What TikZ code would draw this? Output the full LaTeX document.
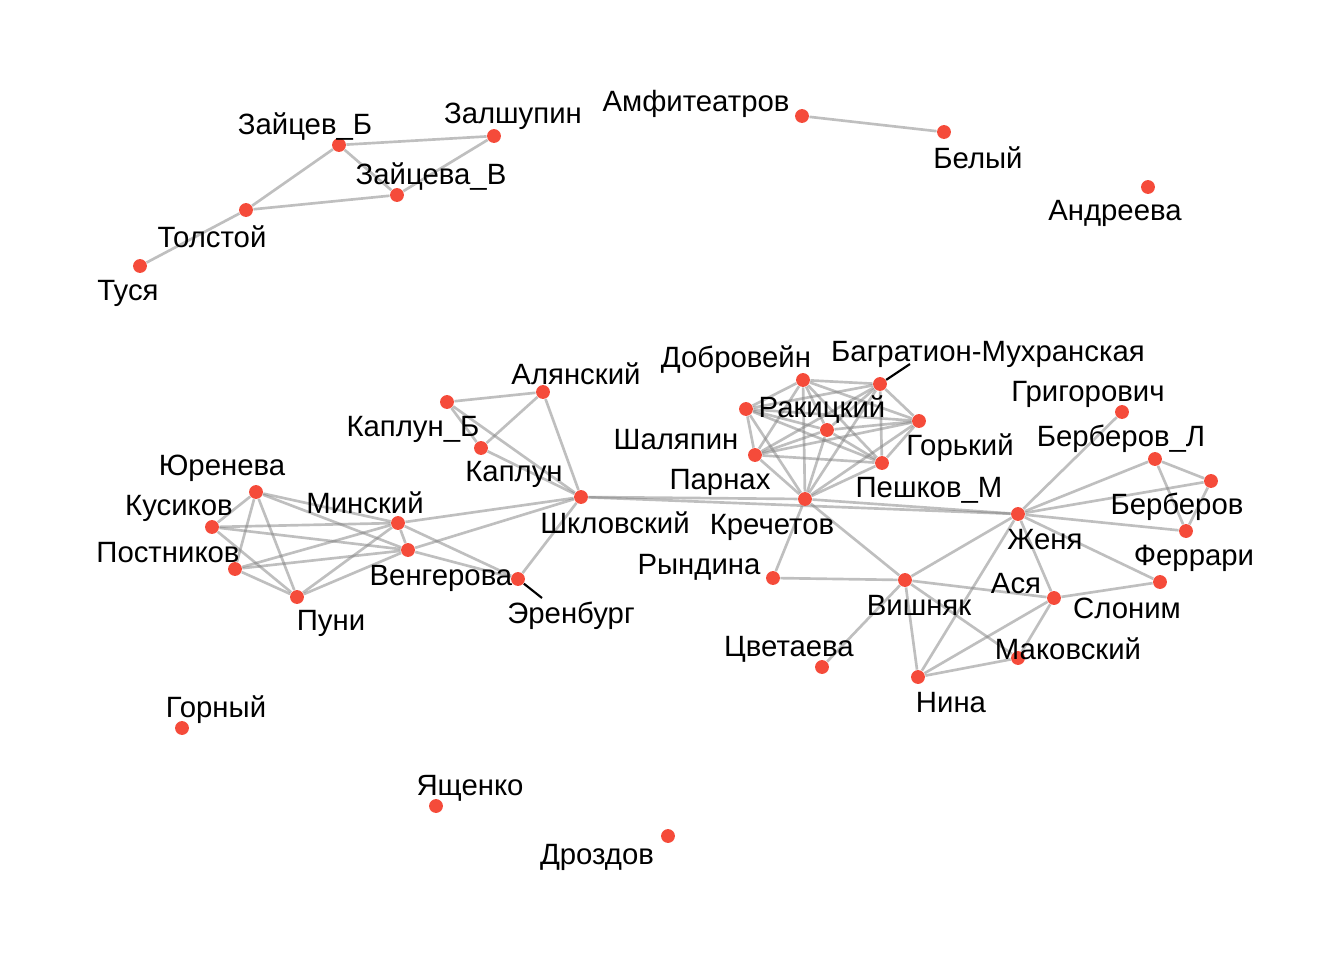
\documentclass[tikz,border=0pt]{standalone}
\usepackage{fontspec}
\setmainfont{Liberation Sans}
\usetikzlibrary{backgrounds}
\definecolor{netDot}{HTML}{F54B3A}
\definecolor{netEdge}{HTML}{808080}
\tikzset{
  net edge/.style={draw=netEdge, draw opacity=0.5, line width=1pt},
  net dot/.style={circle, fill=netDot, draw=none, minimum size=5.2pt, inner sep=0pt},
  net label/.style={font=\fontsize{11}{13}\selectfont, text=black, inner sep=0pt, yshift=-0.75pt},
  net leader/.style={draw=black, line width=0.8pt},
}
\begin{document}
\begin{tikzpicture}[x=0.375pt,y=-0.375pt]
  \useasboundingbox (0,0) rectangle (1344,960);
  % vertices
  \foreach \n/\x/\y in {
      tusya/140/266, tolstoy/246/210, zaycevB/339/145, zaycevaV/397/195, zalshupin/494/136,
      amfi/802/116, bely/944/132, andreeva/1148/187,
      kaplunB/447/402, alyansky/543/392, kaplun/481/448, shklovsky/581/497,
      yureneva/256/492, kusikov/212/527, postnikov/235/569, puni/297/597,
      minsky/398/523, vengerova/408/550, erenburg/518/579,
      dobrovein/803/380, bagration/880/384, shalyapin/746/409, rakitsky/827/430,
      gorky/919/421, parnakh/755/455, peshkov/882/463, krechetov/805/499,
      grigorovich/1122/412, berberovL/1155/459, berberov/1211/481, ferrari/1186/531,
      zhenya/1018/514, slonim/1160/582, asya/1054/598, makovsky/1018/658,
      nina/918/677, vishnyak/905/580, tsvetaeva/822/667, ryndina/773/578,
      gorny/182/728, yashchenko/436/806, drozdov/668/836}
    \node[net dot] (\n) at (\x,\y) {};
  % edges
  \begin{pgfonlayer}{background}
    \foreach \a/\b in {
        tusya/tolstoy, tolstoy/zaycevB, tolstoy/zaycevaV, zaycevB/zalshupin,
        zaycevB/zaycevaV, zaycevaV/zalshupin, amfi/bely,
        kaplunB/alyansky, kaplunB/kaplun, kaplunB/shklovsky, kaplun/alyansky,
        kaplun/shklovsky, alyansky/shklovsky, minsky/shklovsky, vengerova/shklovsky,
        erenburg/shklovsky, minsky/erenburg, vengerova/erenburg, minsky/vengerova,
        yureneva/kusikov, yureneva/postnikov, yureneva/puni, yureneva/minsky,
        yureneva/vengerova, kusikov/minsky, kusikov/vengerova, kusikov/puni,
        postnikov/minsky, postnikov/vengerova, postnikov/puni, puni/minsky, puni/vengerova,
        shklovsky/krechetov, shklovsky/zhenya,
        krechetov/zhenya, krechetov/ryndina, krechetov/vishnyak,
        zhenya/grigorovich, zhenya/berberovL, zhenya/berberov, zhenya/ferrari,
        berberovL/berberov, berberovL/ferrari, berberov/ferrari,
        zhenya/vishnyak, zhenya/nina, zhenya/asya, zhenya/slonim, asya/slonim,
        ryndina/vishnyak, vishnyak/asya, vishnyak/tsvetaeva, vishnyak/nina,
        vishnyak/makovsky, asya/nina, asya/makovsky, nina/makovsky}
      \draw[net edge] (\a) -- (\b);
    % the dense clique round Krechetov
    \foreach \a [count=\i] in {dobrovein,bagration,shalyapin,rakitsky,gorky,parnakh,peshkov,krechetov}
      \foreach \b [count=\j] in {dobrovein,bagration,shalyapin,rakitsky,gorky,parnakh,peshkov,krechetov}
        {\ifnum\i<\j \draw[net edge] (\a) -- (\b); \fi}
  \end{pgfonlayer}
  % leader lines
  \coordinate (erenburg tip) at (542,598);
  \coordinate (bagration tip) at (910,364);
  \draw[net leader] (erenburg) -- (erenburg tip);
  \draw[net leader] (bagration) -- (bagration tip);
  % labels
  \foreach \n/\x/\y/\t in {
      tusya/128/291/Туся, tolstoy/212/235/Толстой, zaycevB/305/125/Зайцев\_Б,
      zaycevaV/431/175/Зайцева\_В, zalshupin/513/114/Залшупин,
      amfi/696/102/Амфитеатров, bely/978/156/Белый, andreeva/1115/211/Андреева,
      alyansky/576/372/Алянский, kaplunB/413/427/Каплун\_Б, kaplun/514/472/Каплун,
      shklovsky/615/521/Шкловский, minsky/365/501/Минский, yureneva/222/466/Юренева,
      kusikov/179/506/Кусиков, postnikov/168/551/Постников, vengerova/441/576/Венгерова,
      puni/331/621/Пуни, erenburg/571/614/Эренбург,
      dobrovein/736/358/Добровейн, bagration/988/352/Багратион-Мухранская,
      rakitsky/822/408/Ракицкий, shalyapin/676/438/Шаляпин, gorky/960/446/Горький,
      parnakh/720/480/Парнах, peshkov/929/488/Пешков\_М, krechetov/772/525/Кречетов,
      grigorovich/1088/392/Григорович, berberovL/1121/437/Берберов\_Л,
      berberov/1177/505/Берберов, zhenya/1045/538/Женя, ferrari/1194/556/Феррари,
      ryndina/699/565/Рындина, asya/1016/582/Ася, vishnyak/919/603/Вишняк,
      slonim/1127/606/Слоним, tsvetaeva/789/647/Цветаева, makovsky/1068/647/Маковский,
      nina/951/701/Нина, gorny/216/708/Горный, yashchenko/470/786/Ященко,
      drozdov/597/855/Дроздов}
    \node[net label] (\n-label) at (\x,\y) {\t};
\end{tikzpicture}
\end{document}
